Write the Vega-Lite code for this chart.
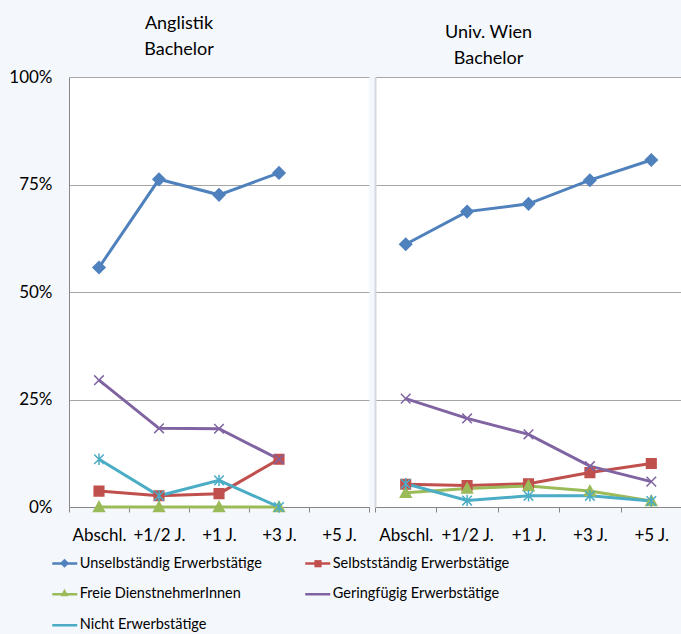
{
  "$schema": "https://vega.github.io/schema/vega-lite/v6.json",
  "background": "#F4F7FC",
  "padding": {"left": 5, "right": 5, "top": 15, "bottom": 5},
  "config": {
    "font": "Lato",
    "view": {"fill": "white", "stroke": null},
    "axis": {"labelFont": "Lato", "labelFontSize": 17, "labelColor": "#000000", "domainColor": "#868686", "gridColor": "#A6A6A6", "tickColor": "#868686"},
    "title": {"font": "Lato", "fontSize": 18, "fontWeight": "normal", "color": "#000000", "lineHeight": 26, "dx": -40, "offset": 9, "anchor": "middle"}
  },
  "datasets": {
    "d": [
      {"p": "A", "t": "Abschl.", "s": "Unselbständig Erwerbstätige", "v": 55.7},
      {"p": "A", "t": "+1/2 J.", "s": "Unselbständig Erwerbstätige", "v": 76.2},
      {"p": "A", "t": "+1 J.", "s": "Unselbständig Erwerbstätige", "v": 72.6},
      {"p": "A", "t": "+3 J.", "s": "Unselbständig Erwerbstätige", "v": 77.7},
      {"p": "A", "t": "Abschl.", "s": "Selbstständig Erwerbstätige", "v": 3.7},
      {"p": "A", "t": "+1/2 J.", "s": "Selbstständig Erwerbstätige", "v": 2.6},
      {"p": "A", "t": "+1 J.", "s": "Selbstständig Erwerbstätige", "v": 3.1},
      {"p": "A", "t": "+3 J.", "s": "Selbstständig Erwerbstätige", "v": 11.1},
      {"p": "A", "t": "Abschl.", "s": "Freie DienstnehmerInnen", "v": 0},
      {"p": "A", "t": "+1/2 J.", "s": "Freie DienstnehmerInnen", "v": 0},
      {"p": "A", "t": "+1 J.", "s": "Freie DienstnehmerInnen", "v": 0},
      {"p": "A", "t": "+3 J.", "s": "Freie DienstnehmerInnen", "v": 0},
      {"p": "A", "t": "Abschl.", "s": "Geringfügig Erwerbstätige", "v": 29.5},
      {"p": "A", "t": "+1/2 J.", "s": "Geringfügig Erwerbstätige", "v": 18.3},
      {"p": "A", "t": "+1 J.", "s": "Geringfügig Erwerbstätige", "v": 18.2},
      {"p": "A", "t": "+3 J.", "s": "Geringfügig Erwerbstätige", "v": 11.1},
      {"p": "A", "t": "Abschl.", "s": "Nicht Erwerbstätige", "v": 11.1},
      {"p": "A", "t": "+1/2 J.", "s": "Nicht Erwerbstätige", "v": 2.6},
      {"p": "A", "t": "+1 J.", "s": "Nicht Erwerbstätige", "v": 6.2},
      {"p": "A", "t": "+3 J.", "s": "Nicht Erwerbstätige", "v": 0},
      {"p": "B", "t": "Abschl.", "s": "Unselbständig Erwerbstätige", "v": 61.1},
      {"p": "B", "t": "+1/2 J.", "s": "Unselbständig Erwerbstätige", "v": 68.7},
      {"p": "B", "t": "+1 J.", "s": "Unselbständig Erwerbstätige", "v": 70.5},
      {"p": "B", "t": "+3 J.", "s": "Unselbständig Erwerbstätige", "v": 76.0},
      {"p": "B", "t": "+5 J.", "s": "Unselbständig Erwerbstätige", "v": 80.7},
      {"p": "B", "t": "Abschl.", "s": "Selbstständig Erwerbstätige", "v": 5.3},
      {"p": "B", "t": "+1/2 J.", "s": "Selbstständig Erwerbstätige", "v": 5.0},
      {"p": "B", "t": "+1 J.", "s": "Selbstständig Erwerbstätige", "v": 5.4},
      {"p": "B", "t": "+3 J.", "s": "Selbstständig Erwerbstätige", "v": 8.0},
      {"p": "B", "t": "+5 J.", "s": "Selbstständig Erwerbstätige", "v": 10.1},
      {"p": "B", "t": "Abschl.", "s": "Freie DienstnehmerInnen", "v": 3.3},
      {"p": "B", "t": "+1/2 J.", "s": "Freie DienstnehmerInnen", "v": 4.3},
      {"p": "B", "t": "+1 J.", "s": "Freie DienstnehmerInnen", "v": 4.9},
      {"p": "B", "t": "+3 J.", "s": "Freie DienstnehmerInnen", "v": 3.7},
      {"p": "B", "t": "+5 J.", "s": "Freie DienstnehmerInnen", "v": 1.4},
      {"p": "B", "t": "Abschl.", "s": "Geringfügig Erwerbstätige", "v": 25.2},
      {"p": "B", "t": "+1/2 J.", "s": "Geringfügig Erwerbstätige", "v": 20.6},
      {"p": "B", "t": "+1 J.", "s": "Geringfügig Erwerbstätige", "v": 16.9},
      {"p": "B", "t": "+3 J.", "s": "Geringfügig Erwerbstätige", "v": 9.5},
      {"p": "B", "t": "+5 J.", "s": "Geringfügig Erwerbstätige", "v": 5.9},
      {"p": "B", "t": "Abschl.", "s": "Nicht Erwerbstätige", "v": 5.4},
      {"p": "B", "t": "+1/2 J.", "s": "Nicht Erwerbstätige", "v": 1.5},
      {"p": "B", "t": "+1 J.", "s": "Nicht Erwerbstätige", "v": 2.6},
      {"p": "B", "t": "+3 J.", "s": "Nicht Erwerbstätige", "v": 2.6},
      {"p": "B", "t": "+5 J.", "s": "Nicht Erwerbstätige", "v": 1.4}
    ]
  },
  "data": {"name": "d"},
  "spacing": 4,
  "resolve": {"scale": {"stroke": "shared", "fill": "shared", "shape": "shared"}, "legend": {"stroke": "shared", "fill": "shared", "shape": "shared"}},
  "hconcat": [
    {
      "width": 300,
      "height": 430,
      "title": {"text": ["Anglistik", "Bachelor"]},
      "transform": [{"filter": "datum.p === 'A'"}],
      "encoding": {
        "x": {"field": "t", "type": "ordinal", "sort": ["Abschl.", "+1/2 J.", "+1 J.", "+3 J.", "+5 J."],
          "scale": {"type": "band", "domain": ["Abschl.", "+1/2 J.", "+1 J.", "+3 J.", "+5 J."], "paddingInner": 0, "paddingOuter": 0},
          "axis": {"title": null, "labelAngle": 0, "tickBand": "extent", "ticks": true, "tickSize": 5, "labelPadding": 15, "grid": false}},
        "y": {"field": "v", "type": "quantitative", "scale": {"domain": [0, 100], "nice": false},
          "axis": {"title": null, "values": [0, 25, 50, 75, 100], "labelExpr": "datum.value + '%'", "ticks": false, "grid": true, "labelPadding": 17, "minExtent": 64, "maxExtent": 64}},
        "stroke": {"field": "s", "type": "nominal",
          "scale": {"domain": ["Unselbständig Erwerbstätige", "Freie DienstnehmerInnen", "Nicht Erwerbstätige", "Selbstständig Erwerbstätige", "Geringfügig Erwerbstätige"], "range": ["#4F81BD", "#9BBB59", "#4BACC6", "#C0504D", "#8064A2"]},
          "legend": {"title": null, "orient": "none", "legendX": -18.25, "legendY": 472.25, "columns": 2, "columnPadding": 37, "rowPadding": 10, "labelFontSize": 14.5, "labelColor": "#000000", "labelFont": "Lato", "symbolType": "stroke", "symbolSize": 625, "symbolStrokeWidth": 2.5, "labelOffset": 1, "labelLimit": 300, "padding": 0}}
      },
      "layer": [
        {"mark": {"type": "line", "strokeWidth": 3}},
        {"mark": {"type": "point", "size": 144, "strokeWidth": 1.5, "opacity": 1},
          "encoding": {
            "shape": {"field": "s", "type": "nominal",
              "scale": {"domain": ["Unselbständig Erwerbstätige", "Freie DienstnehmerInnen", "Nicht Erwerbstätige", "Selbstständig Erwerbstätige", "Geringfügig Erwerbstätige", " "],
                "range": ["M0,-1L1,0L0,1L-1,0Z", "M0,-0.9L0.9,0.75L-0.9,0.75Z", "M-0.8,-0.8L0.8,0.8M-0.8,0.8L0.8,-0.8M0,-0.95L0,0.95", "M-0.8,-0.8L0.8,-0.8L0.8,0.8L-0.8,0.8Z", "M-0.8,-0.8L0.8,0.8M-0.8,0.8L0.8,-0.8", "M0,0"]},
              "legend": {"title": null, "orient": "none", "legendX": -10, "legendY": 480.75, "columns": 2, "columnPadding": 222.5, "rowPadding": 14.5, "labelFontSize": 1, "labelExpr": "''", "labelFont": "Lato", "symbolSize": 81, "symbolStrokeWidth": 1.5, "labelOffset": 18, "labelLimit": 300, "padding": 0}},
            "fill": {"field": "s", "type": "nominal",
              "scale": {"domain": ["Unselbständig Erwerbstätige", "Freie DienstnehmerInnen", "Nicht Erwerbstätige", "Selbstständig Erwerbstätige", "Geringfügig Erwerbstätige", " "], "range": ["#4F81BD", "#9BBB59", "transparent", "#C0504D", "transparent", "transparent"]}}
          }}
      ]
    },
    {
      "width": 307,
      "height": 430,
      "title": {"text": ["Univ. Wien", "Bachelor"]},
      "transform": [{"filter": "datum.p === 'B'"}],
      "encoding": {
        "x": {"field": "t", "type": "ordinal", "sort": ["Abschl.", "+1/2 J.", "+1 J.", "+3 J.", "+5 J."],
          "scale": {"type": "band", "domain": ["Abschl.", "+1/2 J.", "+1 J.", "+3 J.", "+5 J."], "paddingInner": 0, "paddingOuter": 0},
          "axis": {"title": null, "labelAngle": 0, "tickBand": "extent", "ticks": true, "tickSize": 5, "labelPadding": 15, "grid": false}},
        "y": {"field": "v", "type": "quantitative", "scale": {"domain": [0, 100], "nice": false},
          "axis": {"title": null, "values": [0, 25, 50, 75, 100], "labels": false, "ticks": false, "grid": true, "domainColor": "#D3D8E1", "domainWidth": 2, "minExtent": 0, "maxExtent": 0}},
        "stroke": {"field": "s", "type": "nominal",
          "scale": {"domain": ["Unselbständig Erwerbstätige", "Freie DienstnehmerInnen", "Nicht Erwerbstätige", "Selbstständig Erwerbstätige", "Geringfügig Erwerbstätige"], "range": ["#4F81BD", "#9BBB59", "#4BACC6", "#C0504D", "#8064A2"]}}
      },
      "layer": [
        {"mark": {"type": "line", "strokeWidth": 3}},
        {"mark": {"type": "point", "size": 144, "strokeWidth": 1.5, "opacity": 1},
          "encoding": {
            "shape": {"field": "s", "type": "nominal",
              "scale": {"domain": ["Unselbständig Erwerbstätige", "Freie DienstnehmerInnen", "Nicht Erwerbstätige", "Selbstständig Erwerbstätige", "Geringfügig Erwerbstätige", " "],
                "range": ["M0,-1L1,0L0,1L-1,0Z", "M0,-0.9L0.9,0.75L-0.9,0.75Z", "M-0.8,-0.8L0.8,0.8M-0.8,0.8L0.8,-0.8M0,-0.95L0,0.95", "M-0.8,-0.8L0.8,-0.8L0.8,0.8L-0.8,0.8Z", "M-0.8,-0.8L0.8,0.8M-0.8,0.8L0.8,-0.8", "M0,0"]}},
            "fill": {"field": "s", "type": "nominal",
              "scale": {"domain": ["Unselbständig Erwerbstätige", "Freie DienstnehmerInnen", "Nicht Erwerbstätige", "Selbstständig Erwerbstätige", "Geringfügig Erwerbstätige", " "], "range": ["#4F81BD", "#9BBB59", "transparent", "#C0504D", "transparent", "transparent"]}}
          }}
      ]
    }
  ]
}
